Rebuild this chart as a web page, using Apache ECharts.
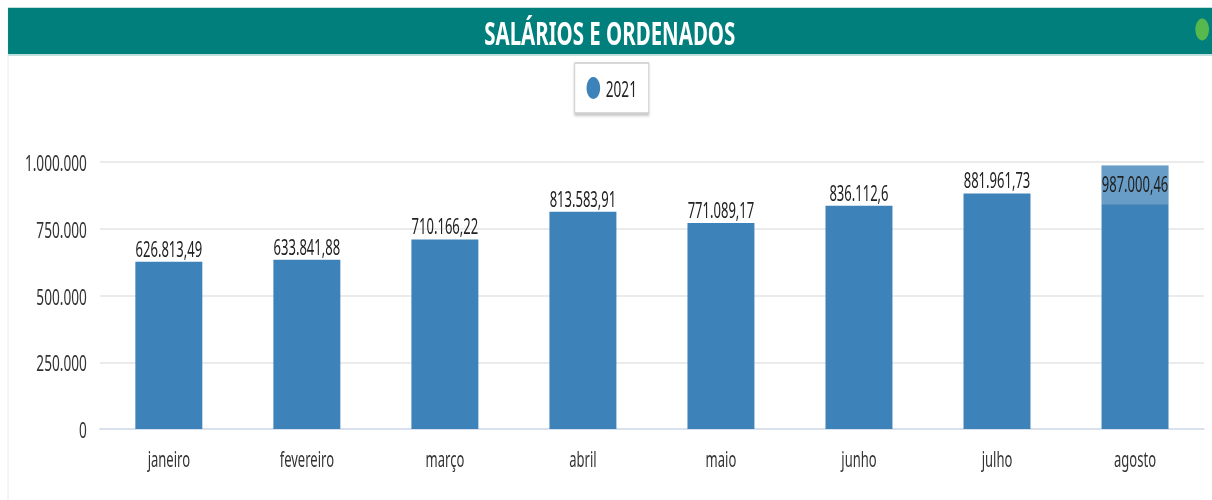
<!DOCTYPE html>
<html>
<head>
<meta charset="utf-8">
<script src="https://cdn.jsdelivr.net/npm/echarts@6/dist/echarts.min.js"></script>
<style>
html, body { margin: 0; padding: 0; background: #fff; overflow: hidden; }
/* o grafico original aparece comprimido na horizontal: desenha largo e aperta */
#main { width: 1955px; height: 500px; transform: scaleX(0.62); transform-origin: 0 0; }
</style>
</head>
<body>
<div id="main"></div>
<script>
var FONT = '"Noto Sans", "Open Sans", sans-serif';

var meses = ['janeiro', 'fevereiro', 'março', 'abril', 'maio', 'junho', 'julho', 'agosto'];
var valores2021 = [626813.49, 633841.88, 710166.22, 813583.91, 771089.17, 836112.6, 881961.73, 987000.46];
var serieNome = '2021';

// numero no formato pt-BR: 1.234.567,89
function fmt(v) {
    var partes = String(Math.round(v * 100) / 100).split('.');
    var inteiro = partes[0].replace(/\B(?=(\d{3})+(?!\d))/g, '.');
    return partes[1] ? inteiro + ',' + partes[1] : inteiro;
}

var dados = valores2021.map(function (v, i) {
    if (i === valores2021.length - 1) {
        // ultimo rotulo fica dentro da barra, com fundo mais claro
        return {
            value: v,
            label: {
                position: 'insideTop',
                distance: 0,
                width: 108,
                height: 39,
                lineHeight: 36,
                align: 'center',
                backgroundColor: 'rgba(255,255,255,0.22)'
            }
        };
    }
    return v;
});

var myChart = echarts.init(document.getElementById('main'), null, { renderer: 'svg' });
myChart.setOption({
    animation: false,
    textStyle: { fontFamily: FONT },
    graphic: [
        { type: 'line', shape: { x1: 13, y1: 8, x2: 13, y2: 500 }, style: { stroke: '#eeeeee', lineWidth: 2 } },
        { type: 'rect', shape: { x: 13, y: 7, width: 1942, height: 49 }, style: { fill: '#bfe0dd' } },
        { type: 'rect', shape: { x: 13, y: 8, width: 1942, height: 46 }, style: { fill: '#007f7d' } },
        { type: 'circle', shape: { cx: 1939, cy: 29.5, r: 11 }, style: { fill: '#57b84e' } }
    ],
    title: {
        text: 'SALÁRIOS E ORDENADOS',
        left: 776,
        top: 11,
        textStyle: { color: '#ffffff', fontSize: 33, fontWeight: 'bold', fontFamily: FONT }
    },
    legend: {
        data: [serieNome],
        top: 63,
        left: 927,
        icon: 'circle',
        itemWidth: 22,
        itemHeight: 22,
        itemGap: 8,
        padding: [14, 19],
        borderColor: '#cccccc',
        borderWidth: 1.5,
        backgroundColor: '#ffffff',
        shadowColor: 'rgba(0,0,0,0.25)',
        shadowBlur: 3,
        shadowOffsetY: 2,
        textStyle: { fontSize: 22, color: '#222', fontFamily: FONT, padding: [0, 0, 0, 4] }
    },
    grid: { left: 161, right: 13, top: 162, bottom: 71, containLabel: false },
    xAxis: {
        type: 'category',
        data: meses,
        axisLine: { lineStyle: { color: '#d9e1ee', width: 2 } },
        axisTick: { length: 20, lineStyle: { color: '#d9e1ee', width: 2 } },
        axisLabel: { fontSize: 21, color: '#333', margin: 19, fontFamily: FONT }
    },
    yAxis: {
        type: 'value',
        min: 0,
        max: 1000000,
        interval: 250000,
        axisLine: { show: false },
        axisTick: { show: false },
        splitLine: { lineStyle: { color: '#ebebeb', width: 2 } },
        axisLabel: {
            fontSize: 22,
            color: '#333',
            margin: 21,
            fontFamily: FONT,
            formatter: function (v) { return fmt(v); }
        }
    },
    series: [{
        name: serieNome,
        type: 'bar',
        data: dados,
        barWidth: 108,
        itemStyle: { color: '#3d82b8' },
        label: {
            show: true,
            position: 'top',
            distance: 3,
            fontSize: 21,
            color: '#222',
            fontFamily: FONT,
            formatter: function (p) { return fmt(p.value); }
        }
    }]
});
</script>
</body>
</html>
